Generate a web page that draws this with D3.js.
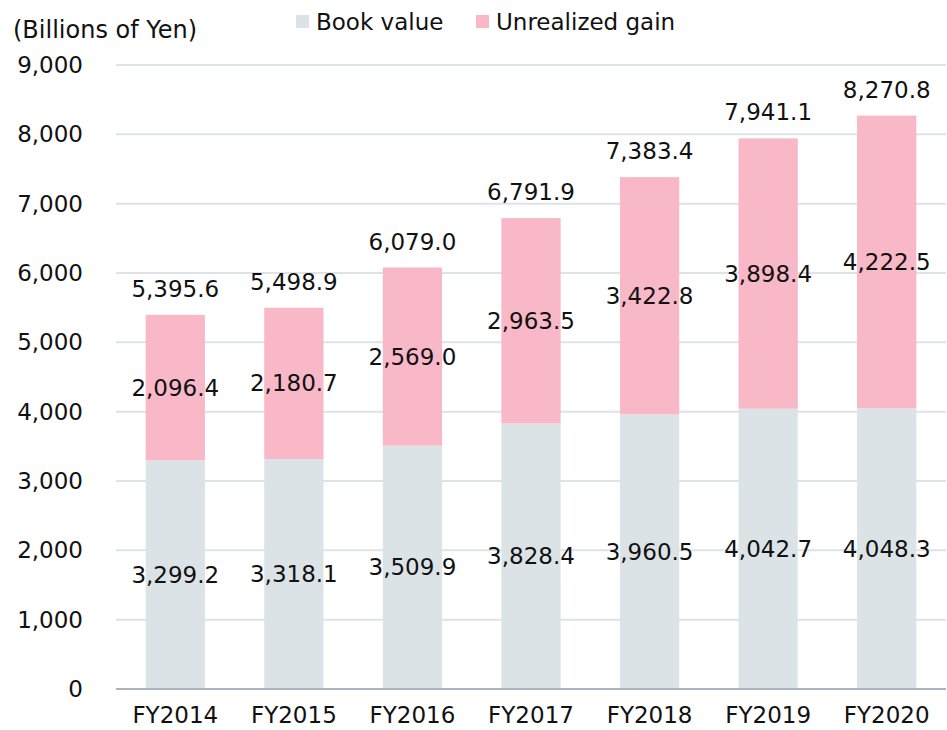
<!DOCTYPE html>
<html><head><meta charset="utf-8">
<script src="https://cdn.jsdelivr.net/npm/d3@7"></script>
<style>body{margin:0;background:#fff}svg{display:block}text{font-family:"DejaVu Sans",Verdana,sans-serif;fill:#111}</style>
</head><body><svg id="c" width="947" height="730"></svg>
<script>
const categories = ["FY2014","FY2015","FY2016","FY2017","FY2018","FY2019","FY2020"];
const bookValue = [3299.2,3318.1,3509.9,3828.4,3960.5,4042.7,4048.3];
const unrealizedGain = [2096.4,2180.7,2569.0,2963.5,3422.8,3898.4,4222.5];
const totals = [5395.6,5498.9,6079.0,6791.9,7383.4,7941.1,8270.8];
const yTicks = [0,1000,2000,3000,4000,5000,6000,7000,8000,9000];
const seriesNames = ["Book value","Unrealized gain"];
const colors = ["#dce3e7","#f9b8c8"];

const svg = d3.select("#c");
const m = {left:116, right:946, top:65, bottom:689};
const fs = 23;
const x = d3.scaleBand().domain(categories).range([m.left, m.right]).paddingInner(0.5).paddingOuter(0.25);
const y = d3.scaleLinear().domain([0,9000]).range([m.bottom, m.top]);
const fmt = d3.format(",.1f");

// grid
svg.append("g").selectAll("line").data(yTicks.filter(d=>d>0)).join("line")
  .attr("x1",m.left).attr("x2",m.right).attr("y1",d=>y(d)).attr("y2",d=>y(d))
  .attr("stroke","#dde3e8").attr("stroke-width",2);

const data = categories.map((c,i)=>({c, b:bookValue[i], g:unrealizedGain[i], t:totals[i]}));
const g = svg.append("g");
g.selectAll("rect.b").data(data).join("rect").attr("class","b")
  .attr("x",d=>x(d.c)).attr("width",x.bandwidth())
  .attr("y",d=>y(d.b)).attr("height",d=>y(0)-y(d.b)).attr("fill",colors[0]);
g.selectAll("rect.g").data(data).join("rect").attr("class","g")
  .attr("x",d=>x(d.c)).attr("width",x.bandwidth())
  .attr("y",d=>y(d.b+d.g)).attr("height",d=>y(d.b)-y(d.b+d.g)).attr("fill",colors[1]);

// axis line
svg.append("line").attr("x1",m.left).attr("x2",m.right).attr("y1",y(0)).attr("y2",y(0))
  .attr("stroke","#a9b5bd").attr("stroke-width",2);

// y labels
const ya = d3.axisLeft(y).tickValues(yTicks).tickSize(0).tickPadding(0).tickFormat(d3.format(","));
const yg = svg.append("g").attr("transform","translate(83,0)").call(ya);
yg.select(".domain").remove();
yg.selectAll("text").attr("font-size",fs).attr("font-family","DejaVu Sans").attr("fill","#111");

// x labels
const xa = d3.axisBottom(x).tickSize(0).tickPadding(0);
const xg = svg.append("g").attr("transform",`translate(0,${y(0)+18})`).call(xa);
xg.select(".domain").remove();
xg.selectAll("text").attr("font-size",fs).attr("font-family","DejaVu Sans").attr("fill","#111").attr("dy","0.71em");

// value labels
const cx = d=>x(d.c)+x.bandwidth()/2;
const lab = svg.append("g").attr("font-size",fs).attr("text-anchor","middle");
lab.selectAll("text.b").data(data).join("text").attr("x",cx).attr("y",d=>(y(0)+y(d.b))/2).attr("dy","0.35em").text(d=>fmt(d.b));
lab.selectAll("text.g").data(data).join("text").attr("x",cx).attr("y",d=>(y(d.b)+y(d.b+d.g))/2).attr("dy","0.35em").text(d=>fmt(d.g));
lab.selectAll("text.t").data(data).join("text").attr("x",cx).attr("y",d=>y(d.t)-26).attr("dy","0.35em").text(d=>fmt(d.t));

// unit label
svg.append("text").attr("x",13).attr("y",30).attr("dy","0.35em").attr("font-size",24).text("(Billions of Yen)");

// legend
const lx = [296,476];
const lg = svg.append("g");
seriesNames.forEach((n,i)=>{
  lg.append("rect").attr("x",lx[i]).attr("y",15).attr("width",13).attr("height",13).attr("fill",colors[i]);
  lg.append("text").attr("x",lx[i]+20).attr("y",22).attr("dy","0.35em").attr("font-size",fs).text(n);
});
</script></body></html>
